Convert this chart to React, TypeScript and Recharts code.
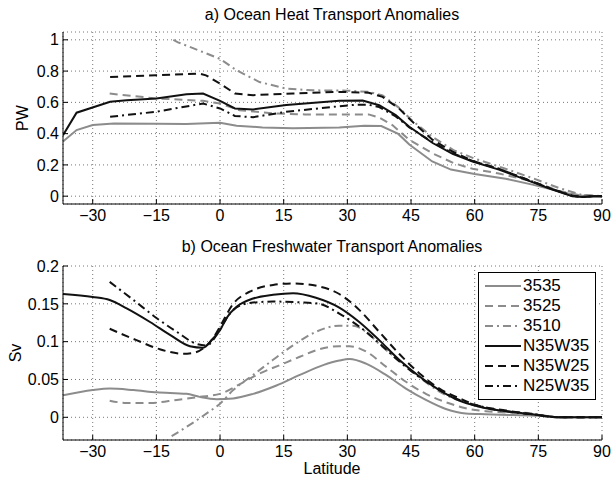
import React from "react";
import { LineChart, Line, XAxis, YAxis, CartesianGrid, Legend } from "recharts";

// ---------- data ----------
const latTicks = [-30, -15, 0, 15, 30, 45, 60, 75, 90];
const heatTicks = [0, 0.2, 0.4, 0.6, 0.8, 1];
const fwTicks = [0, 0.05, 0.1, 0.15, 0.2];
const seriesNames = ["3535", "3525", "3510", "N35W35", "N35W25", "N25W35"];

// a) Ocean heat transport anomalies (PW): [latitude, value]
const heat3535 = [[-37, 0.35], [-33.8, 0.423], [-30, 0.455], [-25, 0.465], [-15, 0.463], [-8, 0.462], [0, 0.47], [3.9, 0.45], [10, 0.44], [17.2, 0.434], [28.1, 0.44], [34, 0.45], [38, 0.449], [42, 0.398], [44.6, 0.33], [50, 0.222], [54.4, 0.17], [60, 0.142], [67.3, 0.112], [73.6, 0.074], [78.3, 0.042], [83.8, 0.006], [87, 0], [90, 0]];
const heat3525 = [[-26, 0.656], [-15, 0.625], [-4, 0.61], [0, 0.593], [4.6, 0.55], [12.5, 0.53], [20, 0.523], [30, 0.523], [35, 0.523], [37.5, 0.503], [40.6, 0.455], [44.6, 0.36], [50, 0.275], [55, 0.212], [59.5, 0.175], [65.7, 0.145], [73.6, 0.095], [79.8, 0.034], [84.5, 0.008], [90, 0]];
const heat3510 = [[-11, 1.0], [-9.9, 0.984], [-4.8, 0.93], [0, 0.878], [3.9, 0.805], [9.3, 0.73], [15.6, 0.688], [21.9, 0.677], [30, 0.675], [35, 0.667], [38.3, 0.645], [42.2, 0.565], [45, 0.49], [50, 0.38], [55, 0.295], [60, 0.24], [65.7, 0.19], [73.6, 0.116], [79.8, 0.053], [85, 0.01], [90, 0]];
const heatN35W35 = [[-37, 0.39], [-33.8, 0.534], [-25.9, 0.604], [-22, 0.614], [-15, 0.625], [-7.9, 0.652], [-4, 0.656], [0, 0.61], [3.5, 0.561], [7.8, 0.555], [15.6, 0.583], [28.1, 0.61], [33.6, 0.612], [37.5, 0.582], [41.4, 0.518], [44.6, 0.444], [50.1, 0.34], [54.8, 0.27], [59.5, 0.222], [65.7, 0.17], [72, 0.106], [78.3, 0.042], [83, 0.0], [85.3, -0.006], [88, 0], [90, 0]];
const heatN35W25 = [[-25.9, 0.762], [-15, 0.773], [-4.8, 0.784], [-3.3, 0.773], [0, 0.72], [3.5, 0.657], [7.8, 0.646], [17.2, 0.657], [28.1, 0.667], [35, 0.662], [38.3, 0.635], [42.2, 0.56], [45.3, 0.477], [50.1, 0.36], [54.8, 0.285], [59.5, 0.226], [65.7, 0.175], [72, 0.11], [78.3, 0.045], [83, 0.002], [85.5, -0.005], [88, 0], [90, 0]];
const heatN25W35 = [[-25.9, 0.508], [-15, 0.54], [-4, 0.593], [0, 0.561], [3.5, 0.513], [7.8, 0.505], [15.6, 0.54], [28.1, 0.575], [32, 0.585], [35, 0.585], [37.5, 0.57], [41.4, 0.51], [44.6, 0.44], [50.1, 0.345], [54.8, 0.275], [59.5, 0.225], [65.7, 0.175], [72, 0.11], [78.3, 0.045], [83, 0.003], [85.3, -0.005], [88, 0], [90, 0]];

// b) Ocean freshwater transport anomalies (Sv): [latitude, value]
const fw3535 = [[-37, 0.029], [-30, 0.036], [-26, 0.038], [-20.4, 0.036], [-14.9, 0.033], [-7.9, 0.031], [-4.8, 0.027], [-0.8, 0.024], [3.1, 0.025], [7.8, 0.031], [13.3, 0.042], [18.8, 0.056], [24.3, 0.069], [28.1, 0.075], [30.5, 0.077], [34.4, 0.071], [39.1, 0.056], [43.8, 0.038], [48.5, 0.023], [53.2, 0.011], [57.9, 0.005], [62.6, 0.004], [68.9, 0.003], [75.2, 0.002], [80, 0], [90, 0]];
const fw3525 = [[-26, 0.022], [-22, 0.019], [-16.5, 0.019], [-10.2, 0.023], [-4.8, 0.027], [0, 0.031], [4.7, 0.044], [9.4, 0.058], [14.1, 0.069], [18.8, 0.08], [23.4, 0.09], [28.1, 0.094], [30.5, 0.094], [34.4, 0.087], [39.1, 0.067], [43.8, 0.047], [48.5, 0.031], [53.2, 0.02], [57.9, 0.012], [62.6, 0.008], [68.9, 0.006], [75.2, 0.003], [80, 0], [90, 0]];
const fw3510 = [[-11.4, -0.025], [-6.6, -0.008], [-2.7, 0.007], [0, 0.018], [3.1, 0.036], [7.8, 0.056], [12.5, 0.076], [17.2, 0.095], [22.6, 0.113], [28.1, 0.121], [31.3, 0.121], [34.4, 0.113], [37.5, 0.097], [42.2, 0.075], [47, 0.053], [51.7, 0.034], [56.4, 0.022], [61.1, 0.014], [67.4, 0.008], [73.6, 0.005], [80, 0], [90, 0]];
const fwN35W35 = [[-37, 0.163], [-30, 0.159], [-26, 0.155], [-22, 0.144], [-16.5, 0.126], [-11.8, 0.109], [-7.1, 0.094], [-4, 0.092], [-1.7, 0.104], [0, 0.115], [1.5, 0.131], [3.9, 0.146], [7.8, 0.157], [12.5, 0.162], [17.2, 0.164], [22.6, 0.158], [28.1, 0.145], [32.8, 0.126], [37.5, 0.102], [42.2, 0.076], [47, 0.054], [51.7, 0.036], [56.4, 0.022], [61.1, 0.014], [67.4, 0.008], [73.6, 0.004], [80, 0], [90, 0]];
const fwN35W25 = [[-26, 0.117], [-19.7, 0.102], [-14.2, 0.09], [-8.7, 0.084], [-6.4, 0.085], [-4, 0.091], [-1.7, 0.104], [0, 0.12], [3.1, 0.15], [7, 0.166], [12.5, 0.175], [17.2, 0.177], [23.4, 0.173], [28.1, 0.163], [32.8, 0.142], [37.5, 0.113], [42.2, 0.084], [47, 0.058], [51.7, 0.038], [56.4, 0.025], [61.1, 0.015], [67.4, 0.009], [73.6, 0.004], [80, 0], [90, 0]];
const fwN25W35 = [[-26, 0.179], [-20.4, 0.155], [-14.9, 0.131], [-10.2, 0.113], [-5.5, 0.097], [-3.1, 0.095], [-0.8, 0.109], [0.8, 0.124], [3.1, 0.142], [7, 0.151], [12.5, 0.153], [18.8, 0.152], [23.4, 0.15], [28.1, 0.137], [32.8, 0.12], [37.5, 0.098], [42.2, 0.074], [47, 0.053], [51.7, 0.036], [56.4, 0.023], [61.1, 0.015], [67.4, 0.008], [73.6, 0.004], [80, 0], [90, 0]];

const heatSeries = [heat3535, heat3525, heat3510, heatN35W35, heatN35W25, heatN25W35];
const fwSeries = [fw3535, fw3525, fw3510, fwN35W35, fwN35W25, fwN25W35];

// ---------- styles ----------
const FONT = '"Liberation Sans", Arial, Helvetica, sans-serif';
const GRAY = "#8c8c8c";
const BLACK = "#111111";
const lineStyles = [
  { color: GRAY, dash: undefined as string | undefined },
  { color: GRAY, dash: "8 5" },
  { color: GRAY, dash: "8 4 2 4" },
  { color: BLACK, dash: undefined as string | undefined },
  { color: BLACK, dash: "8 5" },
  { color: BLACK, dash: "8 4 2 4" },
];

const fmt = (v: number) => (v < 0 ? "\u2212" + Math.abs(v) : String(v));
const toPts = (pairs: number[][]) => pairs.map(([x, y]) => ({ x, y }));
const X_DOMAIN: [number, number] = [-37, 90];

const LegendBox = () => (
  <div
    style={{
      border: "1px solid #000",
      background: "#fff",
      width: 118,
      padding: "3px 0",
      boxSizing: "border-box",
      fontFamily: FONT,
    }}
  >
    {seriesNames.map((n, i) => (
      <div key={n} style={{ display: "flex", alignItems: "center", height: 20 }}>
        <svg width={44} height={10} style={{ display: "block" }}>
          <line
            x1={6}
            x2={42}
            y1={5}
            y2={5}
            stroke={lineStyles[i].color}
            strokeWidth={2}
            strokeDasharray={lineStyles[i].dash}
          />
        </svg>
        <span style={{ fontSize: 17, lineHeight: "20px", color: "#000" }}>{n}</span>
      </div>
    ))}
  </div>
);

type PanelProps = {
  top: number;
  height: number;
  marginTop: number;
  xAxisHeight: number;
  yDomain: [number, number];
  yTicks: number[];
  series: number[][][];
  curve: "linear" | "monotone";
  showLegend?: boolean;
};

function Panel({ top, height, marginTop, xAxisHeight, yDomain, yTicks, series, curve, showLegend }: PanelProps) {
  return (
    <div style={{ position: "absolute", left: 0, top, width: 612, height }}>
      <LineChart width={612} height={height} margin={{ top: marginTop, right: 10, bottom: 0, left: 0 }}>
        <CartesianGrid stroke="#777" strokeDasharray="1 3" strokeWidth={1} />
        <XAxis
          dataKey="x"
          type="number"
          domain={X_DOMAIN}
          ticks={latTicks}
          allowDataOverflow
          interval={0}
          height={xAxisHeight}
          tickSize={-5}
          tickMargin={11}
          tickFormatter={fmt}
          tick={{ fill: "#000", fontSize: 16, fontFamily: FONT }}
          stroke="#000"
        />
        <XAxis
          xAxisId="top"
          orientation="top"
          type="number"
          domain={X_DOMAIN}
          ticks={latTicks}
          allowDataOverflow
          interval={0}
          height={0}
          tickSize={-5}
          tickFormatter={() => ""}
          stroke="#000"
        />
        <YAxis
          type="number"
          domain={yDomain}
          ticks={yTicks}
          allowDataOverflow
          interval={0}
          width={63}
          tickSize={-5}
          tickMargin={9}
          tickFormatter={fmt}
          tick={{ fill: "#000", fontSize: 16, fontFamily: FONT }}
          stroke="#000"
        />
        <YAxis
          yAxisId="right"
          orientation="right"
          type="number"
          domain={yDomain}
          ticks={yTicks}
          allowDataOverflow
          interval={0}
          width={0}
          tickSize={-5}
          tickFormatter={() => ""}
          stroke="#000"
        />
        {series.map((s, i) => (
          <Line
            key={seriesNames[i]}
            name={seriesNames[i]}
            data={toPts(s)}
            dataKey="y"
            type={curve}
            stroke={lineStyles[i].color}
            strokeWidth={2}
            strokeDasharray={lineStyles[i].dash}
            dot={false}
            activeDot={false}
            isAnimationActive={false}
          />
        ))}
        {showLegend && (
          <Legend
            layout="vertical"
            align="center"
            verticalAlign="middle"
            content={() => <LegendBox />}
            wrapperStyle={{ left: 478, top: 40, width: 118 }}
          />
        )}
      </LineChart>
    </div>
  );
}

export default function App() {
  return (
    <div
      style={{
        position: "absolute",
        left: 0,
        top: 0,
        width: 612,
        height: 480,
        background: "#fff",
        fontFamily: FONT,
      }}
    >
      <Panel
        top={0}
        height={232}
        marginTop={32}
        xAxisHeight={28}
        yDomain={[-0.05, 1.05]}
        yTicks={heatTicks}
        series={heatSeries}
        curve="linear"
      />
      <Panel
        top={232}
        height={248}
        marginTop={34}
        xAxisHeight={40}
        yDomain={[-0.03, 0.2]}
        yTicks={fwTicks}
        series={fwSeries}
        curve="monotone"
        showLegend
      />
      <svg
        width={612}
        height={480}
        style={{ position: "absolute", left: 0, top: 0, pointerEvents: "none" }}
        fontFamily={FONT}
        fontSize={16}
      >
        <text x={332} y={20} textAnchor="middle" fill="#000">a) Ocean Heat Transport Anomalies</text>
        <text x={332} y={252} textAnchor="middle" fill="#000">b) Ocean Freshwater Transport Anomalies</text>
        <text x={332} y={474} textAnchor="middle" fill="#000">Latitude</text>
        <text x={0} y={0} textAnchor="middle" fill="#000" transform="translate(28,118) rotate(-90)">PW</text>
        <text x={0} y={0} textAnchor="middle" fill="#000" transform="translate(21,353) rotate(-90)">Sv</text>
      </svg>
    </div>
  );
}
